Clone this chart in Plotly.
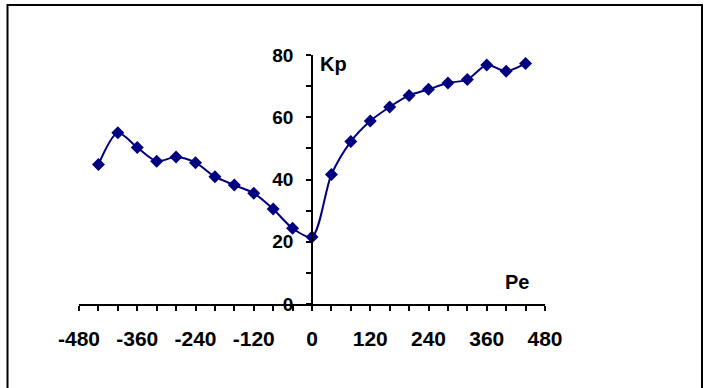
import plotly.graph_objects as go

# Data
pe = [-440, -400, -360, -320, -280, -240, -200, -160, -120, -80, -40, 0,
      40, 80, 120, 160, 200, 240, 280, 320, 360, 400, 440]
kp = [44.8, 55.0, 50.3, 45.9, 47.2, 45.4, 40.9, 38.2, 35.6, 30.5, 24.3, 21.5,
      41.6, 52.2, 58.8, 63.3, 67.0, 69.0, 71.0, 72.1, 76.8, 74.8, 77.3]

x_ticks = [-480, -360, -240, -120, 0, 120, 240, 360, 480]
y_ticks = [0, 20, 40, 60, 80]

W, H = 705, 388
ML, MR, MT, MB = 79, 160, 55, 84
pw, ph = W - ML - MR, H - MT - MB

navy = "#000080"
font_fam = "Liberation Sans, Arial, sans-serif"

fig = go.Figure()
fig.add_trace(go.Scatter(
    x=pe, y=kp, mode="lines+markers",
    line=dict(color=navy, width=2, shape="spline", smoothing=0.8),
    marker=dict(symbol="diamond", size=10, color=navy),
    showlegend=False,
))

fig.update_layout(
    width=W, height=H,
    margin=dict(l=ML, r=MR, t=MT, b=MB),
    paper_bgcolor="white", plot_bgcolor="white",
    font=dict(family=font_fam, color="black"),
    xaxis=dict(
        range=[-480, 480], tickvals=x_ticks, ticktext=[str(v) for v in x_ticks],
        showgrid=False, zeroline=False, showline=True, linecolor="black", linewidth=1.5,
        ticks="outside", ticklen=5, tickwidth=1.5, tickcolor="black",
        minor=dict(dtick=40, tick0=-480, ticks="outside", ticklen=5, tickwidth=1.5, tickcolor="black", showgrid=False),
        tickfont=dict(size=21, family=font_fam, weight="bold"),
        ticklabelstandoff=10,
        domain=[0, 1],
    ),
    yaxis=dict(
        range=[0, 80], tickvals=y_ticks,
        showgrid=False, zeroline=False, showline=True, linecolor="black", linewidth=1.5,
        ticks="outside", ticklen=5, tickwidth=1.5, tickcolor="black",
        minor=dict(dtick=10, tick0=0, ticks="outside", ticklen=5, tickwidth=1.5, tickcolor="black", showgrid=False),
        tickfont=dict(size=19, family=font_fam, weight="bold"),
        ticklabelstandoff=9,
        anchor="free", position=0.5,
    ),
    annotations=[
        dict(x=12, y=77.0, xref="x", yref="y", text="<b>Kp</b>", showarrow=False,
             xanchor="left", yanchor="middle", font=dict(size=20, family=font_fam)),
        dict(x=452, y=7.2, xref="x", yref="y", text="<b>Pe</b>", showarrow=False,
             xanchor="right", yanchor="middle", font=dict(size=20, family=font_fam)),
    ],
    shapes=[
        dict(type="rect", xref="paper", yref="paper",
             x0=(7.5 - ML) / pw, x1=(702 - ML) / pw,
             y0=(H - MB - (H + 5)) / ph, y1=(H - MB - 5) / ph,
             line=dict(color="black", width=2), fillcolor="rgba(0,0,0,0)", layer="above"),
    ],
)

fig.write_html("out.html", config={"displayModeBar": False},
               post_script="document.body.style.margin='0';")
